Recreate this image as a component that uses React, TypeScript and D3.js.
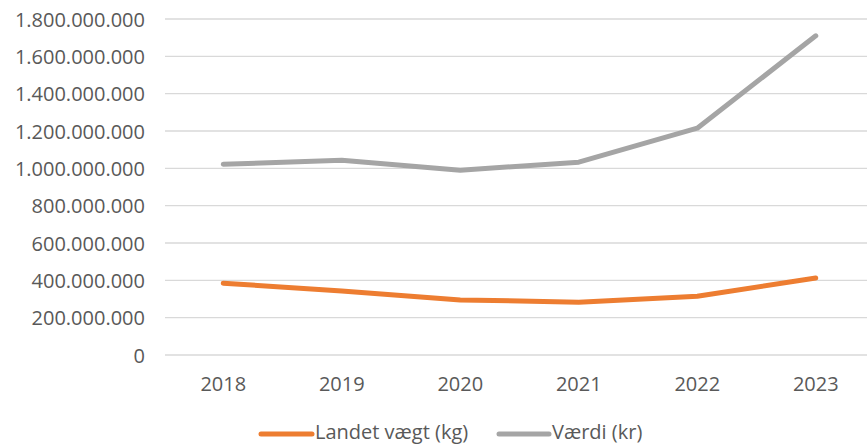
import React from "react";
import * as d3 from "d3";

const years = ["2018", "2019", "2020", "2021", "2022", "2023"];
const landetVaegt = [385000000, 343000000, 295000000, 283000000, 315000000, 412000000];
const vaerdi = [1022000000, 1043000000, 990000000, 1033000000, 1215000000, 1710000000];
const yTicks = [0, 200000000, 400000000, 600000000, 800000000, 1000000000, 1200000000, 1400000000, 1600000000, 1800000000];
const seriesNames = ["Landet vægt (kg)", "Værdi (kr)"];

const W = 867;
const H = 444;
const FONT = "'Open Sans', sans-serif";

const fmt = (v: number) => {
  if (v === 0) return "0";
  return Math.round(v).toString().replace(/\B(?=(\d{3})+(?!\d))/g, ".");
};

export default function App() {
  const plotLeft = 164;
  const plotRight = 875;
  const x = d3.scaleBand<string>().domain(years).range([plotLeft, plotRight]);
  const y = d3.scaleLinear().domain([0, 1800000000]).range([355, 19]);
  const cx = (d: string) => (x(d) ?? 0) + x.bandwidth() / 2;
  const line = d3
    .line<number>()
    .x((_, i) => cx(years[i]))
    .y((d) => y(d))
    .curve(d3.curveLinear);

  const series = [
    { name: seriesNames[0], values: landetVaegt, color: "#ED7D31" },
    { name: seriesNames[1], values: vaerdi, color: "#A5A5A5" },
  ];

  const legendItems = [
    { x1: 261, x2: 312, tx: 315, name: seriesNames[0], color: "#ED7D31" },
    { x1: 499, x2: 549, tx: 552, name: seriesNames[1], color: "#A5A5A5" },
  ];

  return (
    <svg width={W} height={H} style={{ position: "absolute", left: 0, top: 0, background: "#fff" }}>
      <rect width={W} height={H} fill="#fff" />
      {yTicks.map((t) => (
        <g key={t}>
          <line x1={plotLeft + 1} x2={W} y1={y(t)} y2={y(t)} stroke="#D9D9D9" strokeWidth={1.3} />
          <text x={145} y={y(t) + 7.5} textAnchor="end" fontFamily={FONT} fontSize={20} fill="#595959">
            {fmt(t)}
          </text>
        </g>
      ))}
      {years.map((yr) => (
        <text key={yr} x={cx(yr)} y={391} textAnchor="middle" fontFamily={FONT} fontSize={20} fill="#595959">
          {yr}
        </text>
      ))}
      {series.map((s) => (
        <path key={s.name} d={line(s.values) ?? ""} fill="none" stroke={s.color} strokeWidth={5} strokeLinecap="round" strokeLinejoin="round" />
      ))}
      {legendItems.map((l) => (
        <g key={l.name}>
          <line x1={l.x1} x2={l.x2} y1={434} y2={434} stroke={l.color} strokeWidth={5} strokeLinecap="round" />
          <text x={l.tx} y={438.5} fontFamily={FONT} fontSize={20} fill="#595959">
            {l.name}
          </text>
        </g>
      ))}
    </svg>
  );
}
